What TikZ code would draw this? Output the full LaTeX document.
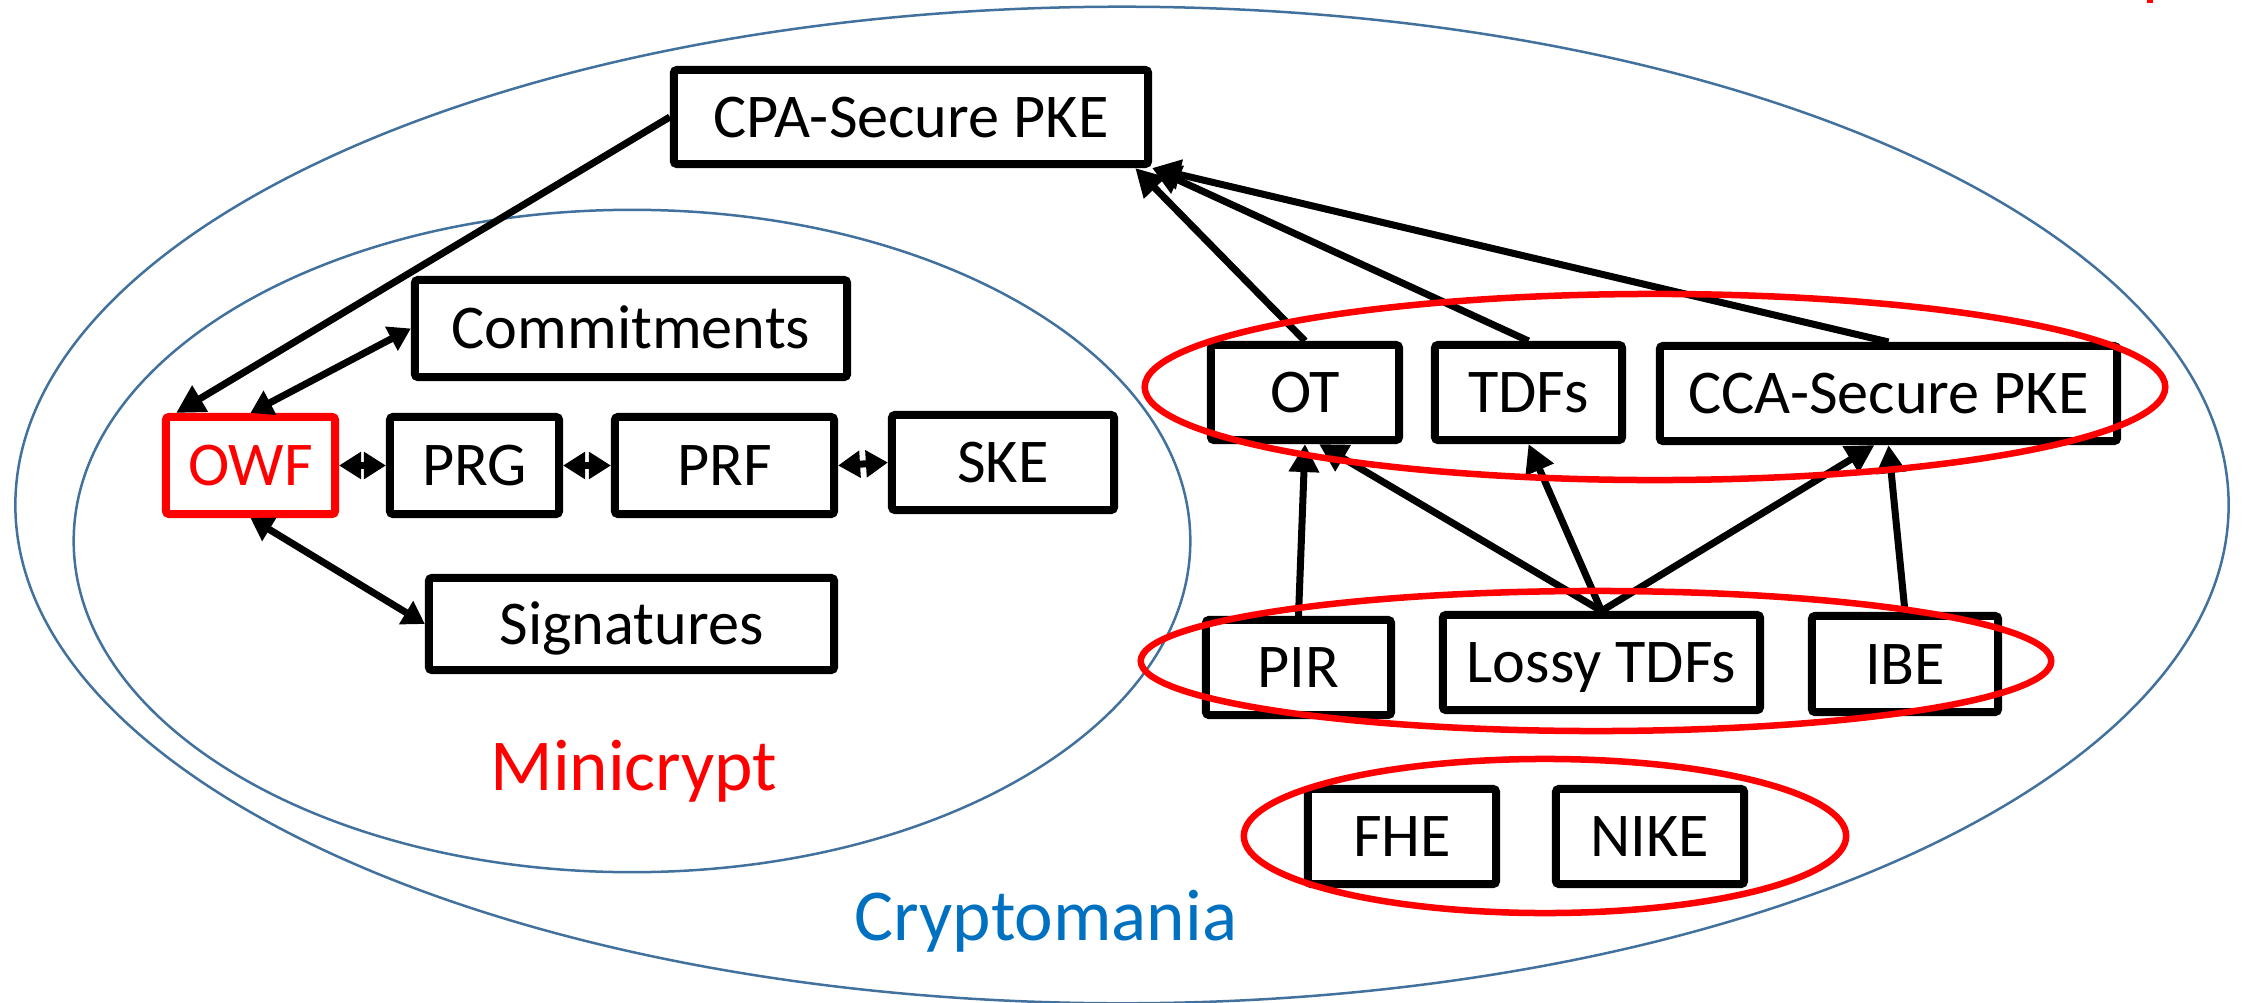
\documentclass[tikz,border=0pt]{standalone}
\usepackage{fontspec}
\setmainfont{Carlito}
\usetikzlibrary{arrows.meta,calc}

\definecolor{setblue}{RGB}{65,113,156}
\definecolor{labelblue}{RGB}{0,112,192}
\definecolor{hilite}{RGB}{255,0,0}

\begin{document}
\begin{tikzpicture}[x=0.01cm,y=-0.01cm,
  box/.style={draw=black, line width=0.8mm, fill=white, inner sep=0pt,
    rounded corners=0.3mm, text height=11.4pt, text depth=0pt,
    font=\fontsize{17.7}{21}\selectfont},
  conn/.style={line width=0.7mm, -{Triangle[length=2.8mm,width=2.9mm]}},
  both/.style={line width=0.7mm,
    {Triangle[length=2.2mm,width=2.6mm]}-{Triangle[length=2.2mm,width=2.6mm]}},
  world/.style={draw=setblue, line width=0.25mm},
  group/.style={draw=hilite, line width=0.65mm},
  worldlabel/.style={inner sep=0pt, text height=13.4pt, text depth=0pt,
    font=\fontsize{20.8}{25}\selectfont},
]
\useasboundingbox (0,0) rectangle (2244,1003);

% the two worlds
\draw[world] (1122,505) ellipse [x radius=110.6mm, y radius=49.8mm];
\draw[world] (632,541) ellipse [x radius=55.8mm, y radius=33.1mm];

% Minicrypt primitives
\node[box, minimum width=47.4mm, minimum height=9.4mm] (cpa) at (911,117) {CPA-Secure PKE};
\node[box, minimum width=43.2mm, minimum height=9.7mm] (comm) at (631,328.5) {Commitments};
\node[box, draw=hilite, text=hilite, minimum width=16.9mm, minimum height=9.7mm] (owf) at (250.5,465.5) {OWF};
\node[box, minimum width=16.9mm, minimum height=9.7mm] (prg) at (474.5,465.5) {PRG};
\node[box, minimum width=21.9mm, minimum height=9.7mm] (prf) at (724.5,465.5) {PRF};
\node[box, minimum width=22.2mm, minimum height=9.5mm] (ske) at (1003,462.5) {SKE};
\node[box, minimum width=40.5mm, minimum height=9.2mm] (sig) at (631.5,624) {Signatures};

% Cryptomania primitives
\node[box, minimum width=18.8mm, minimum height=9.5mm] (ot) at (1305,392.5) {OT};
\node[box, minimum width=18.7mm, minimum height=9.5mm] (tdfs) at (1528.5,392.5) {TDFs};
\node[box, minimum width=45.7mm, minimum height=9.5mm] (cca) at (1888.5,393.5) {CCA-Secure PKE};
\node[box, minimum width=18.5mm, minimum height=9.5mm] (pir) at (1298.5,667.5) {PIR};
\node[box, minimum width=31.7mm, minimum height=9.5mm] (lossy) at (1601.5,662.5) {Lossy TDFs};
\node[box, minimum width=18.6mm, minimum height=9.6mm] (ibe) at (1905,664) {IBE};
\node[box, minimum width=18.8mm, minimum height=9.5mm] (fhe) at (1402,836.5) {FHE};
\node[box, minimum width=18.8mm, minimum height=9.5mm] (nike) at (1650,836.5) {NIKE};

% world names
\node[worldlabel, text=hilite] (mini) at (634,766.5) {Minicrypt};
\node[worldlabel, text=labelblue] (mania) at (1046,916.5) {Cryptomania};

% implications inside Minicrypt
\draw[conn] (cpa.west) -- ($(owf.north west)!0.08!(owf.north east)$);
\draw[both] (owf.north) -- (comm.west);
\draw[both] (owf.south) -- (sig.west);
\draw[both] (owf.east) -- (prg.west);
\draw[both] (prg.east) -- (prf.west);
\draw[both] (prf.east) -- (ske.west);

% implications inside Cryptomania
\draw[conn] (ot.north) -- ($(cpa.south west)!0.965!(cpa.south east)$);
\draw[conn] (tdfs.north) -- (cpa.south east);
\draw[conn] (cca.north) -- (cpa.south east);
\draw[conn] (pir.north) -- (ot.south);
\draw[conn] (lossy.north) -- ($(ot.south)+(14,0)$);
\draw[conn] (lossy.north) -- (tdfs.south);
\draw[conn] (lossy.north) -- ($(cca.south)+(-14,0)$);
\draw[conn] (ibe.north) -- (cca.south);

% groupings
\draw[group] (1655,387) ellipse [x radius=51mm, y radius=9.3mm];
\draw[group] (1596,661) ellipse [x radius=45.5mm, y radius=7mm];
\draw[group] (1545,836) ellipse [x radius=30.1mm, y radius=7.7mm];

% red mark at the top edge
\fill[hilite] (2147,0) rectangle (2153,3);
\end{tikzpicture}
\end{document}
